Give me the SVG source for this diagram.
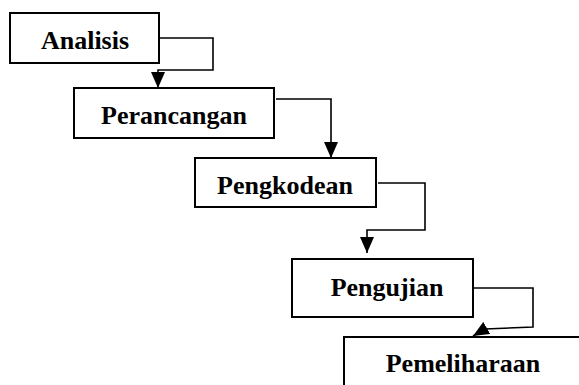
<svg xmlns="http://www.w3.org/2000/svg" width="579" height="385" viewBox="0 0 579 385">
  <style>
    .box { fill: #fff; stroke: #000; stroke-width: 2; }
    .edge { fill: none; stroke: #000; stroke-width: 1.6; }
    .label { font-family: "Liberation Serif", "Times New Roman", serif; font-weight: bold; font-size: 26px; fill: #000; text-anchor: middle; }
  </style>
  <defs>
    <marker id="arrow" markerUnits="userSpaceOnUse" markerWidth="16" markerHeight="14" refX="16" refY="7" orient="auto">
      <path d="M0,0 L16,7 L0,14 z" fill="#000"/>
    </marker>
  </defs>
  <rect width="579" height="385" fill="#fff"/>

  <!-- waterfall stages -->
  <g id="analisis">
    <rect class="box" x="10" y="13" width="149" height="50"/>
    <text class="label" x="85" y="49">Analisis</text>
  </g>
  <g id="perancangan">
    <rect class="box" x="74" y="88" width="200" height="50"/>
    <text class="label" x="174" y="124">Perancangan</text>
  </g>
  <g id="pengkodean">
    <rect class="box" x="195" y="158" width="181" height="49"/>
    <text class="label" x="285" y="194">Pengkodean</text>
  </g>
  <g id="pengujian">
    <rect class="box" x="292" y="259" width="181" height="58"/>
    <text class="label" x="387" y="296">Pengujian</text>
  </g>
  <g id="pemeliharaan">
    <path class="box" fill="none" d="M344,386 V337 H580"/>
    <text class="label" x="463" y="372">Pemeliharaan</text>
  </g>

  <!-- flow between stages -->
  <g id="connectors">
    <path class="edge" d="M160,38 H213 V70 H158 V88" marker-end="url(#arrow)"/>
    <path class="edge" d="M276,99 H331 V158" marker-end="url(#arrow)"/>
    <path class="edge" d="M378,183 H425 V230 H367 V253" marker-end="url(#arrow)"/>
    <path class="edge" d="M474,288 H533 V327 L485,329 L473,336" marker-end="url(#arrow)"/>
  </g>
</svg>
